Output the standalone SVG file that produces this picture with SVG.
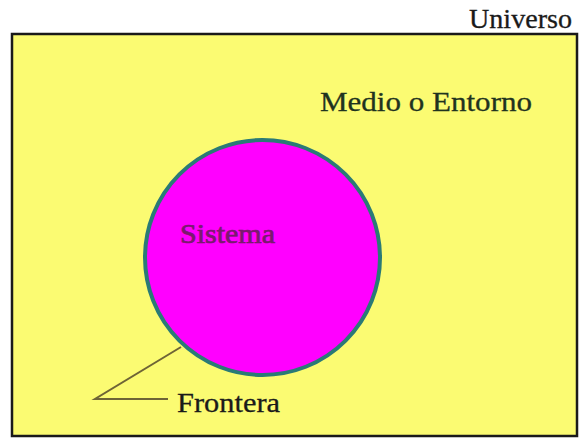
<svg xmlns="http://www.w3.org/2000/svg" width="584" height="439" viewBox="0 0 584 439">
<style>
text{font-family:'Liberation Serif','Times New Roman',serif;fill:#1a1a1a;stroke:#1a1a1a;stroke-width:0.3}
</style>
<rect width="584" height="439" fill="#ffffff"/>
<g id="universo">
<rect x="12" y="34" width="565" height="402" fill="#fbfb72" stroke="#1a1a1a" stroke-width="2.5"/>
<text x="469" y="28" font-size="27" textLength="103" lengthAdjust="spacingAndGlyphs">Universo</text>
</g>
<g id="medio">
<text x="320" y="111" font-size="28" textLength="212" lengthAdjust="spacingAndGlyphs" style="fill:#1f331f;stroke:#1f331f">Medio o Entorno</text>
</g>
<g id="sistema">
<circle cx="262.5" cy="257.5" r="117.5" fill="#ff00ff" stroke="#2a7a76" stroke-width="4"/>
<text x="180" y="243" font-size="27" textLength="95" lengthAdjust="spacingAndGlyphs" style="fill:#7a1a6e;stroke:#7a1a6e;stroke-width:0.7">Sistema</text>
</g>
<g id="connectors">
<polyline points="181,347 95,399 168,399" fill="none" stroke="#6e6436" stroke-width="2"/>
</g>
<g id="frontera">
<text x="177" y="412" font-size="28" textLength="103" lengthAdjust="spacingAndGlyphs">Frontera</text>
</g>
</svg>
